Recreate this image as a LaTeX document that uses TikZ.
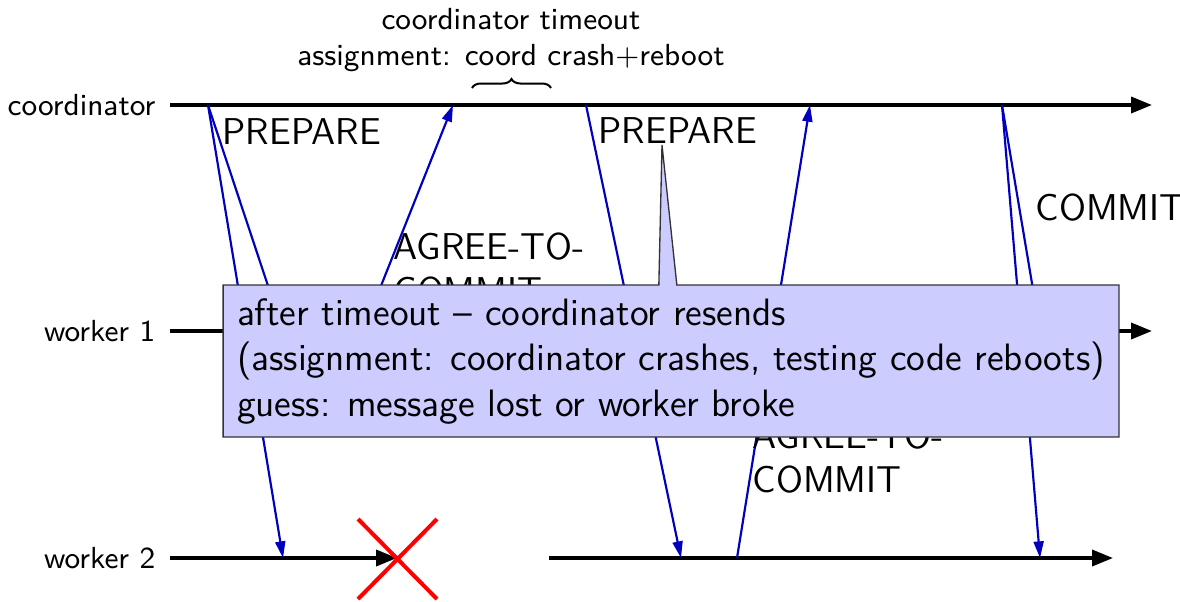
\documentclass[tikz,border=0pt]{standalone}
\usetikzlibrary{arrows.meta,decorations.pathreplacing,shapes.callouts}
\definecolor{msgblue}{RGB}{0,0,190}
\definecolor{notefill}{RGB}{204,204,255}
\begin{document}
\begin{tikzpicture}[x=0.3pt,y=-0.3pt,
  timeline/.style={line width=1.1pt,-{Triangle[length=6.3pt,width=4.8pt]}},
  msg/.style={draw=msgblue,line width=0.65pt,-{Triangle[length=5pt,width=3pt]},fill=none},
  msglabel/.style={font={\sffamily\fontsize{11.2}{13.2}\selectfont},inner sep=0pt,anchor=base west,align=left},
  proclabel/.style={font={\sffamily\fontsize{9.15}{10.8}\selectfont},inner sep=0pt,anchor=east},
  toplabel/.style={font={\sffamily\fontsize{9.15}{10.8}\selectfont},inner sep=0pt,align=center},
  note/.style={rectangle callout,fill=notefill,draw=black!80,line width=0.4pt,
    font={\sffamily\fontsize{11.45}{13.65}\selectfont},align=left,
    inner xsep=4.2pt,inner ysep=0pt,minimum height=45.6pt},
  crash/.style={draw=red,line width=1.2pt}]
\useasboundingbox (0,0) rectangle (1180,601);

% process names
\node[proclabel] (lc)  at (156,105) {coordinator};
\node[proclabel] (lw1) at (156,331) {worker 1};
\node[proclabel] (lw2) at (156,558) {worker 2};

% time lines
\coordinate (c0)  at (170,105);  \coordinate (cE)  at (1152,105);
\coordinate (w10) at (170,331);  \coordinate (w1E) at (1152,331);
\coordinate (w20) at (170,558);  \coordinate (w2X) at (397,558);
\coordinate (w2R) at (549,558);  \coordinate (w2E) at (1113,558);
\draw[timeline] (c0) -- (cE);
\draw[timeline] (w10) -- (w1E);
\draw[timeline] (w20) -- (w2X);
\draw[timeline] (w2R) -- (w2E);

% events on the time lines
\coordinate (c1) at (208,105);
\coordinate (c2) at (453,105);
\coordinate (c3) at (586,105);
\coordinate (c4) at (810,105);
\coordinate (c5) at (1002,105);
\coordinate (w1a) at (283,331);
\coordinate (w1b) at (363,331);
\coordinate (w1c) at (1040,331);
\coordinate (w2a) at (283,558);
\coordinate (w2b) at (681,558);
\coordinate (w2c) at (737,558);
\coordinate (w2d) at (1040,558);

% messages
\draw[msg] (c1) -- (w1a);
\draw[msg] (c1) -- (w2a);
\draw[msg] (w1b) -- (c2);
\draw[msg] (c3) -- (w2b);
\draw[msg] (w2c) -- (c4);
\draw[msg] (c5) -- (w1c);
\draw[msg] (c5) -- (w2d);

% message names (base anchor sits on the last line)
\node[msglabel] (m1) at (222,144) {PREPARE};
\node[msglabel] (m2) at (393,303) {AGREE-TO-\\COMMIT};
\node[msglabel] (m3) at (598,143) {PREPARE};
\node[msglabel] (m4) at (752,492) {AGREE-TO-\\COMMIT};
\node[msglabel] (m5) at (1035,220) {COMMIT};

% coordinator timeout
\coordinate (bl) at (472,88);
\coordinate (br) at (551,88);
\draw[line width=0.6pt,decorate,decoration={brace,amplitude=2.7pt}] (bl) -- (br);
\node[toplabel,anchor=base] (tl) at (511,65) {coordinator timeout\\assignment: coord crash$+$reboot};

% worker 2 crash
\coordinate (x1) at (358,519);
\coordinate (x2) at (437,599);
\coordinate (x3) at (358,599);
\coordinate (x4) at (437,519);
\draw[crash] (x1) -- (x2);
\draw[crash] (x3) -- (x4);

% explanation
\coordinate (ptr) at (662,145);
\node[note,callout absolute pointer={(ptr)},callout pointer width=5.4pt] (n) at (671,361)
  {after timeout -- coordinator resends\\
   (assignment: coordinator crashes, testing code reboots)\\
   guess: message lost or worker broke};
\end{tikzpicture}
\end{document}
